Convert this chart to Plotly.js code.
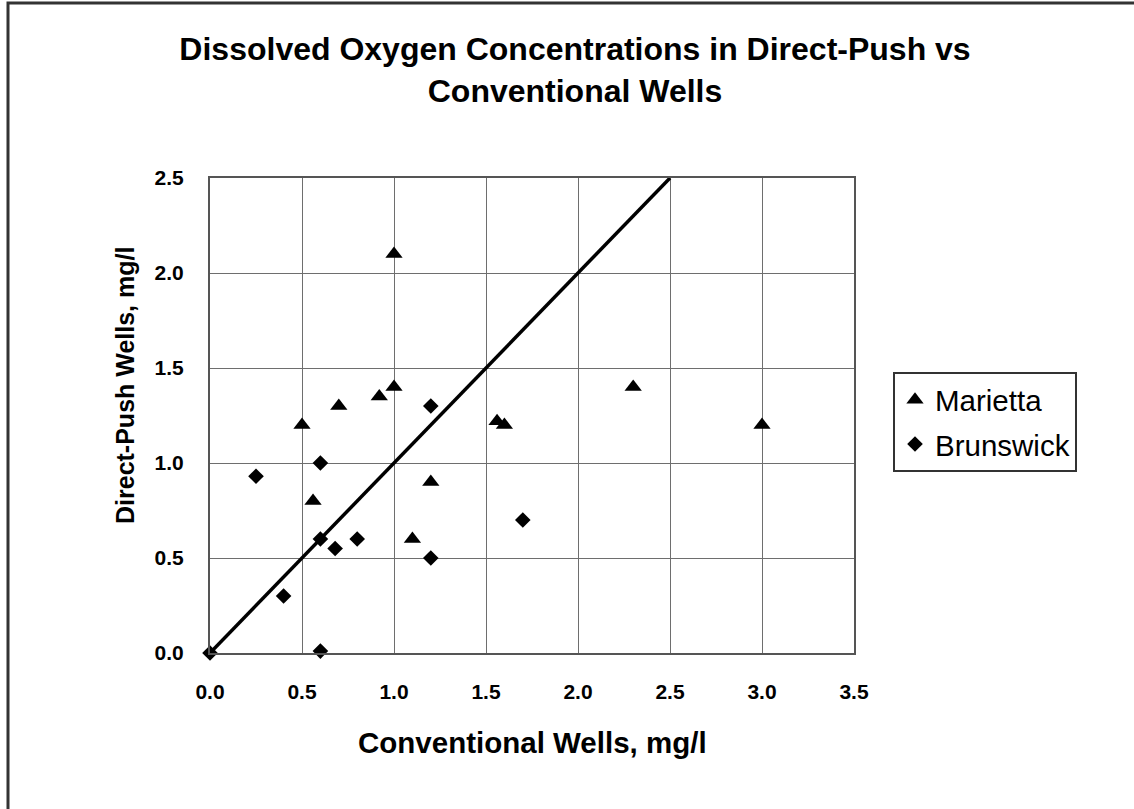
<!DOCTYPE html>
<html>
<head>
<meta charset="utf-8">
<script src="https://cdn.plot.ly/plotly-3.0.1.min.js"></script>
<style>
  html, body { margin: 0; padding: 0; background: #fff; }
  #chart { width: 1134px; height: 809px; }
</style>
</head>
<body>
<div id="chart"></div>
<script>
// Data
const seriesNames = ["Marietta", "Brunswick"];
const mariettaX = [1.0, 1.0, 0.92, 0.7, 0.5, 1.56, 1.6, 1.2, 0.56, 1.1, 2.3, 3.0];
const mariettaY = [2.1, 1.4, 1.35, 1.3, 1.2, 1.22, 1.2, 0.9, 0.8, 0.6, 1.4, 1.2];
const brunswickX = [0.0, 0.25, 0.4, 0.6, 0.6, 0.6, 0.68, 0.8, 1.2, 1.2, 1.7];
const brunswickY = [0.0, 0.93, 0.3, 1.0, 0.6, 0.01, 0.55, 0.6, 1.3, 0.5, 0.7];
const oneToOneX = [0, 2.5];
const oneToOneY = [0, 2.5];
const xTickVals = [0, 0.5, 1, 1.5, 2, 2.5, 3, 3.5];
const yTickVals = [0, 0.5, 1, 1.5, 2, 2.5];

const FONT = "Liberation Sans, Arial, Helvetica, sans-serif";

const traces = [
  {
    x: oneToOneX, y: oneToOneY, type: "scatter", mode: "lines",
    line: { color: "#000", width: 3.5 }, showlegend: false, hoverinfo: "skip",
    cliponaxis: false
  },
  {
    x: mariettaX, y: mariettaY, type: "scatter", mode: "markers", name: seriesNames[0],
    legendgroup: "m",
    marker: { symbol: "triangle-up", size: 15, color: "#000" }, cliponaxis: false
  },
  {
    x: brunswickX, y: brunswickY, type: "scatter", mode: "markers", name: seriesNames[1],
    legendgroup: "b",
    marker: { symbol: "diamond", size: 12, color: "#000" }, cliponaxis: false
  }
];

const plotW = 644, plotH = 475;
const layout = {
  width: 1134, height: 809, autosize: false,
  paper_bgcolor: "#fff", plot_bgcolor: "#fff",
  margin: { l: 210, r: 280, t: 178, b: 156, pad: 0 },
  font: { family: FONT, color: "#000" },
  title: {
    text: "<b>Dissolved Oxygen Concentrations in Direct-Push vs<br>Conventional Wells</b>",
    font: { family: FONT, size: 32, color: "#000" },
    xref: "container", yref: "container",
    x: 575 / 1134, xanchor: "center", y: 1 - 60 / 809, yanchor: "top"
  },
  xaxis: {
    range: [0, 3.5], tickvals: xTickVals, tickformat: ".1f",
    showgrid: true, gridcolor: "#6e6e6e", gridwidth: 1,
    showline: true, linecolor: "#555", linewidth: 2, mirror: true,
    zeroline: false, ticks: "outside", ticklen: 19, tickcolor: "rgba(0,0,0,0)",
    tickfont: { family: FONT, size: 21, color: "#000", weight: "bold" },
    fixedrange: true
  },
  yaxis: {
    range: [0, 2.5], tickvals: yTickVals, tickformat: ".1f",
    showgrid: true, gridcolor: "#6e6e6e", gridwidth: 1,
    showline: true, linecolor: "#555", linewidth: 2, mirror: true,
    zeroline: false, ticks: "outside", ticklen: 20, tickcolor: "rgba(0,0,0,0)",
    tickfont: { family: FONT, size: 21, color: "#000", weight: "bold" },
    fixedrange: true
  },
  legend: {
    x: (893 - 210) / plotW, xanchor: "left",
    y: (653 - 372) / plotH, yanchor: "top",
    bgcolor: "#fff", bordercolor: "#333", borderwidth: 2,
    font: { family: FONT, size: 29.5, color: "#000" },
    tracegroupgap: 3, itemwidth: 30
  },
  annotations: [
    {
      text: "<b>Conventional Wells, mg/l</b>", xref: "paper", yref: "paper",
      x: 0.5, y: (653 - 742) / plotH, xanchor: "center", yanchor: "middle",
      showarrow: false, font: { family: FONT, size: 29.5, color: "#000" }
    },
    {
      text: "<b>Direct-Push Wells, mg/l</b>", xref: "paper", yref: "paper",
      x: (125 - 210) / plotW, y: (653 - 386) / plotH, xanchor: "center", yanchor: "middle",
      textangle: -90, showarrow: false, font: { family: FONT, size: 25, color: "#000" }
    }
  ],
  shapes: [
    {
      type: "rect", xref: "paper", yref: "paper",
      x0: (8 - 210) / plotW, x1: 3, y0: -2, y1: (653 - 3) / plotH,
      line: { color: "#333", width: 3 }, fillcolor: "rgba(0,0,0,0)", layer: "below"
    }
  ]
};

Plotly.newPlot("chart", traces, layout, { displayModeBar: false, staticPlot: true });
</script>
</body>
</html>
